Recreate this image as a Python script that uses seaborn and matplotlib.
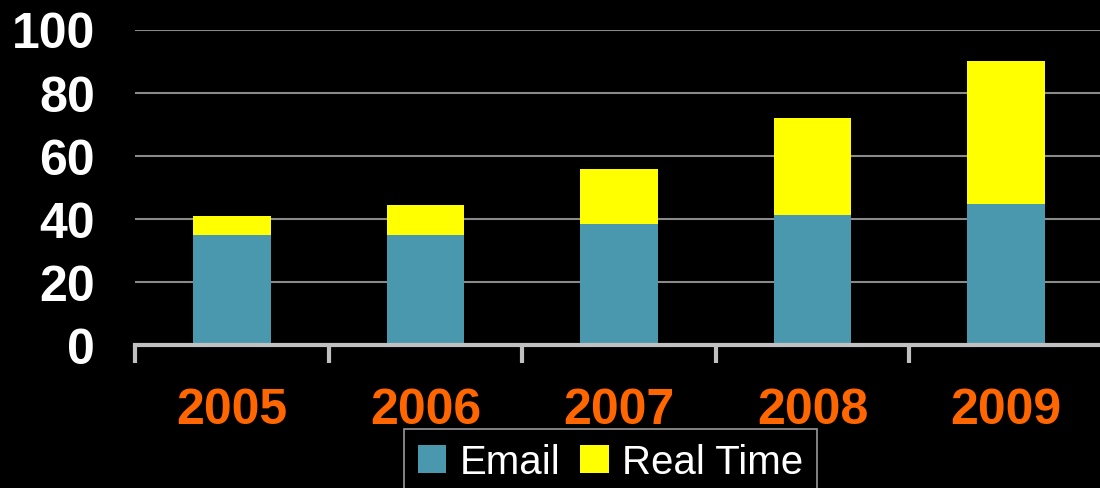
import numpy as np
import pandas as pd
import matplotlib
matplotlib.use("Agg")
import matplotlib.pyplot as plt
import seaborn as sns
from matplotlib.patches import Patch

# dados
anos = ["2005", "2006", "2007", "2008", "2009"]
email = [35.0, 35.0, 38.2, 41.1, 44.6]
real_time = [5.8, 9.3, 17.5, 30.9, 45.5]

df = pd.DataFrame({"ano": anos, "Email": email, "Real Time": real_time})
df["total"] = df["Email"] + df["Real Time"]

sns.set_style("dark")
plt.rcParams["font.family"] = ["Liberation Sans", "DejaVu Sans"]

cor_email = "#4A98AE"
cor_rt = "#FFFF00"

fig = plt.figure(figsize=(11, 4.89), dpi=100, facecolor="black")
ax = fig.add_axes([135 / 1100, 1 - 346 / 489, (1103 - 135) / 1100, (346 - 30.5) / 489])
ax.set_facecolor("black")

# barras empilhadas: total por baixo, email por cima
sns.barplot(data=df, x="ano", y="total", color=cor_rt, width=0.4, saturation=1,
            linewidth=0, edgecolor="none", ax=ax, zorder=3)
sns.barplot(data=df, x="ano", y="Email", color=cor_email, width=0.4, saturation=1,
            linewidth=0, edgecolor="none", ax=ax, zorder=4)

ax.set_xlim(-0.5, 4.5)
ax.set_ylim(0, 100)
ax.set_yticks([0, 20, 40, 60, 80, 100])
ax.set_xlabel("")
ax.set_ylabel("")

ax.grid(axis="y", color="#8a8a8a", linewidth=1.5, zorder=1)
ax.grid(axis="x", visible=False)

for s in ["left", "right", "top"]:
    ax.spines[s].set_visible(False)
ax.spines["bottom"].set_color("#c0c0c0")
ax.spines["bottom"].set_linewidth(3)
ax.spines["bottom"].set_zorder(5)

# ticks nas fronteiras das categorias
ax.set_xticks([0, 1, 2, 3, 4])
ax.set_xticks([-0.5, 0.5, 1.5, 2.5, 3.5], minor=True)
ax.tick_params(axis="x", which="major", bottom=True, length=0, pad=30, labelsize=36, labelcolor="#FF6600")
ax.tick_params(axis="x", which="minor", bottom=True, length=13, width=3, color="#c0c0c0", direction="out")
ax.tick_params(axis="y", length=0, pad=29, labelsize=36, labelcolor="white")
for lbl in ax.get_xticklabels() + ax.get_yticklabels():
    lbl.set_fontweight("bold")

handles = [Patch(facecolor=cor_email, edgecolor="none", linewidth=0, label="Email"),
           Patch(facecolor=cor_rt, edgecolor="none", linewidth=0, label="Real Time")]
leg = fig.legend(handles=handles, loc="upper left", bbox_to_anchor=(404 / 1100, 1 - 430 / 489),
                 bbox_transform=fig.transFigure, ncol=2, fontsize=29, frameon=True,
                 handlelength=0.7, handleheight=0.7, handletextpad=0.33, columnspacing=0.5,
                 borderpad=0.35, borderaxespad=0, fancybox=False)
leg.get_frame().set_facecolor("black")
leg.get_frame().set_edgecolor("#c0c0c0")
leg.get_frame().set_linewidth(1.2)
for t in leg.get_texts():
    t.set_color("white")

fig.savefig("out.png", dpi=100, facecolor="black")
